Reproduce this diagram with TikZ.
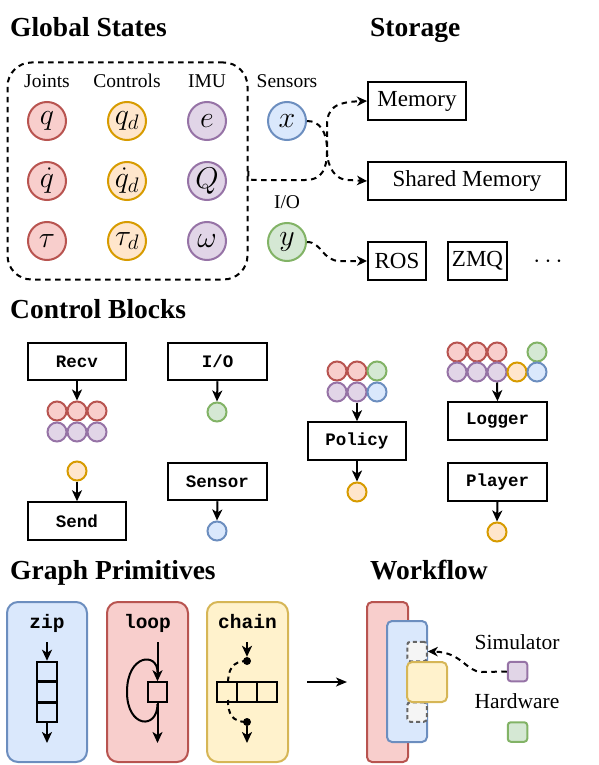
\documentclass[tikz,border=0pt]{standalone}
\usepackage{fix-cm}
\usepackage{fontspec}
\setmainfont{Liberation Serif}
\setmonofont{Liberation Mono}
\usetikzlibrary{arrows.meta}
\definecolor{redF}{HTML}{F8CECC}\definecolor{redD}{HTML}{B85450}
\definecolor{oraF}{HTML}{FFE6CC}\definecolor{oraD}{HTML}{D79B00}
\definecolor{purF}{HTML}{E1D5E7}\definecolor{purD}{HTML}{9673A6}
\definecolor{bluF}{HTML}{DAE8FC}\definecolor{bluD}{HTML}{6C8EBF}
\definecolor{grnF}{HTML}{D5E8D4}\definecolor{grnD}{HTML}{82B366}
\definecolor{yelF}{HTML}{FFF2CC}\definecolor{yelD}{HTML}{D6B656}
\definecolor{gryF}{HTML}{F5F5F5}\definecolor{gryD}{HTML}{666666}
\tikzset{
  title/.style={font=\fontsize{27.5}{30}\selectfont\bfseries, anchor=base west, inner sep=0},
  lab/.style={font=\fontsize{19.5}{22}\selectfont, anchor=base, inner sep=0},
  big/.style={circle, line width=2pt, minimum size=38pt, inner sep=0, font=\fontsize{30}{32}\selectfont},
  sm/.style={circle, line width=2pt, minimum size=19pt, inner sep=0},
  cR/.style={fill=redF, draw=redD}, cO/.style={fill=oraF, draw=oraD},
  cP/.style={fill=purF, draw=purD}, cB/.style={fill=bluF, draw=bluD},
  cG/.style={fill=grnF, draw=grnD}, cY/.style={fill=yelF, draw=yelD},
  store/.style={draw, line width=2pt, minimum height=38pt, inner sep=0, font=\fontsize{23}{26}\selectfont},
  blk/.style={draw, line width=2pt, minimum height=37.5pt, minimum width=98.5pt, inner sep=0, font=\fontsize{17.5}{20}\ttfamily\bfseries},
  arr/.style={line width=2pt, -{Stealth[length=11pt,width=10pt,inset=3pt]}},
  dasharr/.style={line width=2pt, dash pattern=on 5.5pt off 4.5pt, -{Stealth[length=10pt,width=9.5pt,inset=3pt]}},
  cell/.style={draw, line width=2pt, minimum size=19.5pt, inner sep=0},
  prim/.style={line width=2pt, rounded corners=11pt},
  plab/.style={font=\fontsize{19.5}{22}\ttfamily\bfseries, anchor=base, inner sep=0},
  wf/.style={line width=2pt, rounded corners=5pt},
}
\begin{document}
\begin{tikzpicture}[x=1pt,y=-1pt]
\useasboundingbox (0,0) rectangle (598,765);
% ---------- Global States ----------
\node[title] (tgs) at (10,37) {Global States};
\node[title] (tst) at (370,37) {Storage};
\node[draw, line width=2pt, dash pattern=on 5.5pt off 4.5pt, rounded corners=24pt,
      minimum width=240pt, minimum height=217pt, inner sep=0] (gsbox) at (127.5,171) {};
\node[lab] (lj) at (47,88) {Joints};
\node[lab] (lc) at (127,88) {Controls};
\node[lab] (li) at (207,88) {IMU};
\node[lab] (ls) at (287,88) {Sensors};
\node[lab] (lio) at (287,208) {I/O};
\node[big,cR] (q) at (47,121) {$q$};
\node[big,cR] (qd) at (47,181) {$\dot q$};
\node[big,cR] (tau) at (47,241) {$\tau$};
\node[big,cO] (qdes) at (127,121) {$q_d$};
\node[big,cO] (qddes) at (127,181) {$\dot q_d$};
\node[big,cO] (taud) at (127,241) {$\tau_d$};
\node[big,cP] (e) at (207,121) {$e$};
\node[big,cP] (Q) at (207,181) {$Q$};
\node[big,cP] (om) at (207,241) {$\omega$};
\node[big,cB] (xs) at (287,121) {$x$};
\node[big,cG] (ys) at (287,242) {$y$};
\node[store, minimum width=98pt] (mem) at (417,101) {Memory};
\node[store, minimum width=198pt] (shm) at (467,181) {Shared Memory};
\node[store, minimum width=58pt] (ros) at (397,261) {ROS};
\node[store, minimum width=59pt] (zmq) at (477.5,261) {ZMQ};
\node[inner sep=0, font=\fontsize{25}{28}\selectfont] (dots) at (548,262) {$\cdots$};
\draw[dasharr] (gsbox.east) .. controls (248,180) .. (258,180) -- (305,180)
   .. controls (323,180) and (327,168) .. (327,150) -- (327,126)
   .. controls (327,108) and (335,102) .. (mem.west);
\draw[dasharr] (xs.east) .. controls (320,121) and (327,132) .. (327,150)
   .. controls (327,168) and (336,180) .. (348,180) -- (shm.west);
\draw[dasharr] (ys.east) .. controls (322,242) and (322,261) .. (340,261) -- (ros.west);
% ---------- Control Blocks ----------
\node[title] (tcb) at (10,318) {Control Blocks};
\node[blk] (recv) at (77,361.5) {Recv};
\node[sm,cR] (a1) at (57,411) {};
\node[sm,cR] (a2) at (77,411) {};
\node[sm,cR] (a3) at (97,411) {};
\node[sm,cP] (a4) at (57,432) {};
\node[sm,cP] (a5) at (77,432) {};
\node[sm,cP] (a6) at (97,432) {};
\draw[arr] (recv.south) -- (a2.north);
\node[sm,cO] (so) at (77,471) {};
\node[blk] (send) at (77,521) {Send};
\draw[arr] (so.south) -- (send.north);
\node[blk] (iob) at (217.5,361.5) {I/O};
\node[sm,cG] (iog) at (217,412) {};
\draw[arr] (iob.south) -- (iog.north);
\node[blk] (sen) at (217.5,481.5) {Sensor};
\node[sm,cB] (senb) at (217,531) {};
\draw[arr] (sen.south) -- (senb.north);
\node[sm,cR] (b1) at (337,371) {};
\node[sm,cR] (b2) at (357,371) {};
\node[sm,cG] (b3) at (377,371) {};
\node[sm,cP] (b4) at (337,392) {};
\node[sm,cP] (b5) at (357,392) {};
\node[sm,cB] (b6) at (377,392) {};
\node[blk] (pol) at (357,441) {Policy};
\node[sm,cO] (polo) at (357,492) {};
\draw[arr] (b5.south) -- (pol.north);
\draw[arr] (pol.south) -- (polo.north);
\node[sm,cR] (c1) at (457,352) {};
\node[sm,cR] (c2) at (477,352) {};
\node[sm,cR] (c3) at (497,352) {};
\node[sm,cG] (c4) at (537,352) {};
\node[sm,cP] (c5) at (457,372) {};
\node[sm,cP] (c6) at (477,372) {};
\node[sm,cP] (c7) at (497,372) {};
\node[sm,cO] (c8) at (517,372) {};
\node[sm,cB] (c9) at (537,372) {};
\node[blk] (log) at (497.5,421) {Logger};
\draw[arr] (c7.south) -- (log.north);
\node[blk] (ply) at (497.5,482) {Player};
\node[sm,cO] (plyo) at (497,532) {};
\draw[arr] (ply.south) -- (plyo.north);
% ---------- Graph Primitives ----------
\node[title] (tgp) at (10,579) {Graph Primitives};
\draw[prim,cB] (7,602) rectangle (87,762);
\draw[prim,cR] (107,602) rectangle (188,762);
\draw[prim,cY] (207,602) rectangle (288,762);
\node[plab] (pz) at (47,628) {zip};
\node[plab] (pl) at (147.5,628) {loop};
\node[plab] (pc) at (247.5,628) {chain};
% zip
\node[cell] (z1) at (47,671.5) {};
\node[cell] (z2) at (47,692) {};
\node[cell] (z3) at (47,712.5) {};
\coordinate (zin) at (47,642);
\coordinate (zout) at (47,743);
\draw[arr] (zin) -- (z1.north);
\draw[arr] (z3.south) -- (zout);
% loop
\node[cell] (lq) at (157.5,692) {};
\coordinate (lin) at (157.5,642);
\coordinate (lout) at (157.5,743);
\coordinate (lstart) at (157.5,704);
\draw[arr] (lin) -- (lq.north);
\draw[arr] (lq.south) -- (lout);
\draw[line width=2pt] (lstart) .. controls (157.5,730) and (127,728) .. (127,692)
   .. controls (127,654) and (157.5,652) .. (157.5,672);
% chain
\node[cell] (k1) at (227,692) {};
\node[cell] (k2) at (247,692) {};
\node[cell] (k3) at (267,692) {};
\node[circle, fill=black, minimum size=8pt, inner sep=0] (d1) at (247,661) {};
\node[circle, fill=black, minimum size=8pt, inner sep=0] (d2) at (247,722) {};
\coordinate (cin) at (247,642);
\coordinate (cout) at (247,743);
\draw[arr] (cin) -- (d1.north);
\draw[arr] (d2.south) -- (cout);
\draw[line width=2pt, dash pattern=on 5pt off 4pt] (d1.center)
   .. controls (232,661) and (228,670) .. (228,684);
\draw[line width=2pt, dash pattern=on 5pt off 4pt] (228,700)
   .. controls (228,714) and (232,722) .. (d2.center);
% ---------- Workflow ----------
\node[title] (twf) at (370,579) {Workflow};
\coordinate (wa) at (307,682);
\coordinate (wb) at (347,682);
\draw[line width=1.8pt, -{Stealth[length=11pt,width=9pt,inset=3pt]}] (wa) -- (wb);
\draw[wf,cR] (367,602) rectangle (408,762);
\draw[wf,cB] (387,621) rectangle (427,742);
\node[draw=gryD, fill=gryF, line width=2pt, dash pattern=on 4pt off 3pt, rounded corners=3pt,
      minimum size=19.5pt, inner sep=0] (gs1) at (417,651.5) {};
\node[draw=gryD, fill=gryF, line width=2pt, dash pattern=on 4pt off 3pt, rounded corners=3pt,
      minimum size=19.5pt, inner sep=0] (gs2) at (417,712) {};
\draw[wf,cY] (407,662) rectangle (447,702);
\node[font=\fontsize{21.5}{24}\selectfont, anchor=base, inner sep=0] (lsim) at (517,649) {Simulator};
\node[font=\fontsize{21.5}{24}\selectfont, anchor=base, inner sep=0] (lhw) at (517,708) {Hardware};
\node[cP, line width=2pt, rounded corners=3pt, minimum size=19.5pt, inner sep=0] (sim) at (517.5,671.5) {};
\node[cG, line width=2pt, rounded corners=3pt, minimum size=19.5pt, inner sep=0] (hw) at (517.5,732) {};
\draw[dasharr] (sim.west) -- (482,672) .. controls (466,672) and (462,652) .. (gs1.east);
\end{tikzpicture}
\end{document}
